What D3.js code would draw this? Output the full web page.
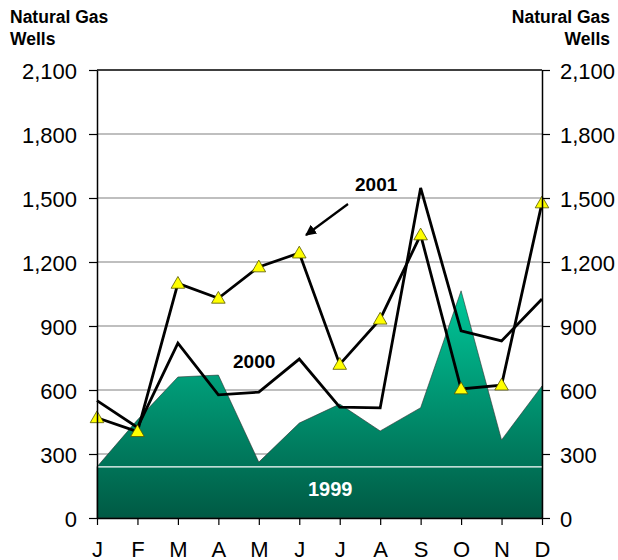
<!DOCTYPE html>
<html>
<head>
<meta charset="utf-8">
<script src="https://cdn.jsdelivr.net/npm/d3@7/dist/d3.min.js"></script>
<style>
  html, body { margin: 0; padding: 0; background: #fff; }
  svg { display: block; font-family: "Liberation Sans", Arial, sans-serif; }
</style>
</head>
<body>
<svg id="chart" width="618" height="560"></svg>
<script>
// ---- data ----
const months = ["J","F","M","A","M2","J2","J3","A2","S","O","N","D"];
const monthLabels = ["J","F","M","A","M","J","J","A","S","O","N","D"];
const wells1999 = [240, 460, 661, 670, 262, 445, 534, 408, 517, 1065, 366, 619];
const wells2000 = [550, 425, 820, 577, 590, 745, 520, 516, 1547, 877, 830, 1027];
const wells2001 = [470, 405, 1100, 1030, 1177, 1242, 720, 932, 1327, 605, 623, 1477];
const yTicks = [0, 300, 600, 900, 1200, 1500, 1800, 2100];
const baseLevel = 240;
const titleLines = ["Natural Gas", "Wells"];
const seriesLabels = { s1999: "1999", s2000: "2000", s2001: "2001" };

(function () {
// ---- layout ----
const svg = d3.select("#chart");
const pLeft = 97, pRight = 542, pTop = 70, pBottom = 518;
const x = d3.scalePoint().domain(months).range([pLeft, pRight]);
const y = d3.scaleLinear().domain([0, 2100]).range([pBottom, pTop]);

// gradient for 1999 area
const defs = svg.append("defs");
const grad = defs.append("linearGradient")
  .attr("id", "g1999").attr("gradientUnits", "userSpaceOnUse")
  .attr("x1", 0).attr("x2", 0)
  .attr("y1", y(d3.max(wells1999))).attr("y2", y(0));
grad.append("stop").attr("offset", "0%").attr("stop-color", "#00c89a");
grad.append("stop").attr("offset", "100%").attr("stop-color", "#005a44");

defs.append("marker")
  .attr("id", "arrow").attr("viewBox", "0 0 10 10")
  .attr("refX", 9).attr("refY", 5)
  .attr("markerWidth", 5).attr("markerHeight", 5)
  .attr("markerUnits", "strokeWidth")
  .attr("orient", "auto")
  .append("path").attr("d", "M0,0 L10,5 L0,10 Z").attr("fill", "#000");

// gridlines
svg.append("g").selectAll("line")
  .data(yTicks.filter(d => d > 0))
  .join("line")
  .attr("x1", pLeft).attr("x2", pRight)
  .attr("y1", d => y(d)).attr("y2", d => y(d))
  .attr("stroke", d => d === 2100 ? "#000" : "#808080")
  .attr("stroke-width", d => d === 2100 ? 1.5 : 1.2);

// 1999 area
const area = d3.area()
  .x((d, i) => x(months[i]))
  .y0(y(0))
  .y1(d => y(d));
svg.append("path")
  .datum(wells1999)
  .attr("d", area)
  .attr("fill", "url(#g1999)")
  .attr("stroke", "#333")
  .attr("stroke-width", 0.6);

// white base line
svg.append("line")
  .attr("x1", pLeft).attr("x2", pRight)
  .attr("y1", y(baseLevel)).attr("y2", y(baseLevel))
  .attr("stroke", "#fff").attr("stroke-width", 1.2);

// lines
const line = d3.line().x((d, i) => x(months[i])).y(d => y(d));
svg.append("path").datum(wells2000).attr("d", line)
  .attr("fill", "none").attr("stroke", "#000").attr("stroke-width", 2.8)
  .attr("stroke-linejoin", "miter");
svg.append("path").datum(wells2001).attr("d", line)
  .attr("fill", "none").attr("stroke", "#000").attr("stroke-width", 2.8)
  .attr("stroke-linejoin", "miter");

// triangles
const tri = d3.symbol().type(d3.symbolTriangle).size(80);
svg.append("g").selectAll("path")
  .data(wells2001)
  .join("path")
  .attr("d", tri)
  .attr("transform", (d, i) => `translate(${x(months[i])},${y(d) + 1})`)
  .attr("fill", "#ffff00")
  .attr("stroke", "#555500")
  .attr("stroke-width", 0.8);

// axes
const fmt = d3.format(",");
const yl = svg.append("g").attr("transform", `translate(${pLeft},0)`)
  .call(d3.axisLeft(y).tickValues(yTicks).tickSize(8).tickSizeOuter(0).tickPadding(12).tickFormat(fmt));
const yr = svg.append("g").attr("transform", `translate(${pRight},0)`)
  .call(d3.axisRight(y).tickValues(yTicks).tickSize(8).tickSizeOuter(0).tickPadding(10).tickFormat(fmt));
const xb = svg.append("g").attr("transform", `translate(0,${pBottom})`)
  .call(d3.axisBottom(x).tickSize(7).tickSizeOuter(0).tickFormat((d, i) => monthLabels[i]));

[yl, yr, xb].forEach(g => {
  g.select(".domain").attr("stroke", "#000").attr("stroke-width", 1.5);
  g.selectAll(".tick line").attr("stroke", "#000").attr("stroke-width", 1.2);
  g.selectAll("text").attr("font-size", 22).attr("fill", "#000")
    .attr("font-family", "'Liberation Sans', Arial, sans-serif");
});
yl.selectAll("text").attr("dy", "0.37em");
yr.selectAll("text").attr("dy", "0.37em");
xb.selectAll("text").attr("y", 23).attr("dy", "0.71em");

// titles
const tl = svg.append("text").attr("font-size", 17.5).attr("font-weight", "bold");
titleLines.forEach((t, i) => tl.append("tspan").attr("x", 10).attr("y", 23 + i * 21.5).text(t));
const tr = svg.append("text").attr("font-size", 17.5).attr("font-weight", "bold").attr("text-anchor", "end");
titleLines.forEach((t, i) => tr.append("tspan").attr("x", 610).attr("y", 23 + i * 21.5).text(t));

// series labels
svg.append("text").attr("x", 355).attr("y", 191).attr("font-size", 19).attr("font-weight", "bold")
  .text(seriesLabels.s2001);
svg.append("text").attr("x", 233).attr("y", 368).attr("font-size", 19).attr("font-weight", "bold")
  .text(seriesLabels.s2000);
svg.append("text").attr("x", 308).attr("y", 496).attr("font-size", 20).attr("font-weight", "bold")
  .attr("fill", "#fff").text(seriesLabels.s1999);

// arrow
svg.append("line")
  .attr("x1", 348).attr("y1", 204).attr("x2", 306).attr("y2", 235)
  .attr("stroke", "#000").attr("stroke-width", 2.2)
  .attr("marker-end", "url(#arrow)");
})();
</script>
</body>
</html>
